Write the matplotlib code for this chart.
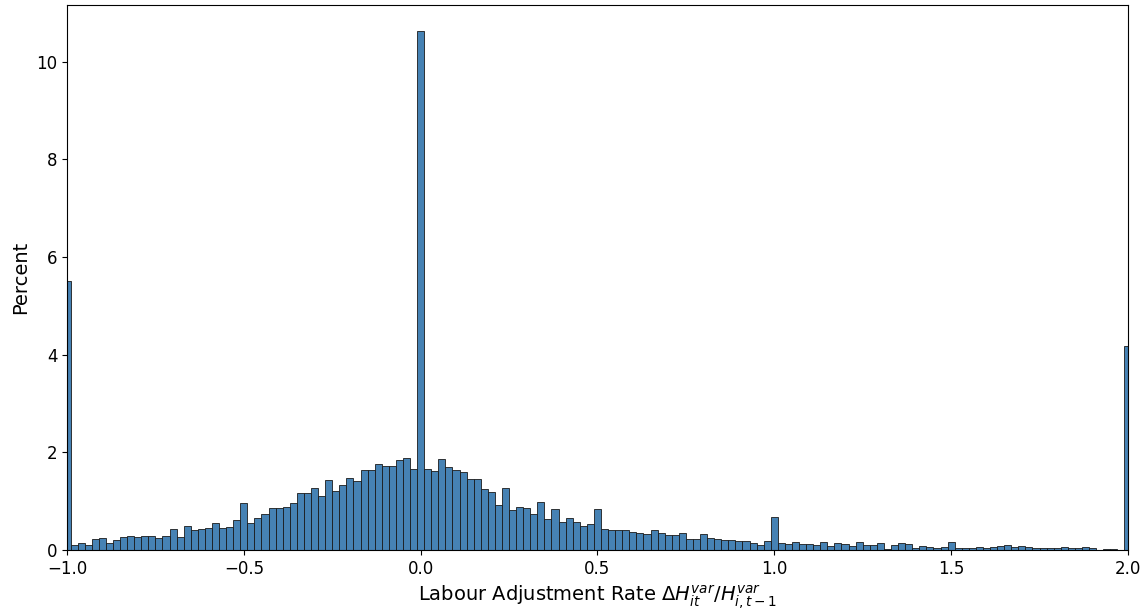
import numpy as np
import matplotlib
matplotlib.use("Agg")
import matplotlib.pyplot as plt

# bin centres -1.00, -0.98, ..., 2.00 (width 0.02)
bin_width = 0.02
centres = np.round(np.arange(-1.0, 2.0 + bin_width / 2, bin_width), 2)

# percent per bin
pct_neg = [
    5.51, 0.10, 0.14, 0.10, 0.23, 0.25, 0.14, 0.20, 0.27, 0.29,
    0.26, 0.29, 0.29, 0.25, 0.29, 0.42, 0.27, 0.49, 0.41, 0.43,
    0.45, 0.55, 0.45, 0.47, 0.62, 0.96, 0.56, 0.66, 0.73, 0.86,
    0.86, 0.875, 0.96, 1.17, 1.175, 1.28, 1.11, 1.43, 1.20, 1.33,
    1.475, 1.41, 1.64, 1.64, 1.76, 1.73, 1.73, 1.85, 1.89, 1.65,
]
pct_zero = [10.63]
pct_pos = [
    1.66, 1.62, 1.865, 1.69, 1.63, 1.605, 1.46, 1.46, 1.24, 1.18,
    0.93, 1.26, 0.82, 0.89, 0.87, 0.73, 0.99, 0.64, 0.83, 0.57,
    0.66, 0.58, 0.50, 0.53, 0.83, 0.42, 0.40, 0.40, 0.40, 0.375,
    0.355, 0.335, 0.40, 0.35, 0.315, 0.30, 0.355, 0.225, 0.23, 0.32,
    0.25, 0.225, 0.20, 0.21, 0.19, 0.18, 0.14, 0.11, 0.18, 0.67,
    0.14, 0.13, 0.165, 0.13, 0.13, 0.11, 0.165, 0.09, 0.15, 0.13,
    0.09, 0.165, 0.11, 0.11, 0.14, 0.02, 0.11, 0.14, 0.12, 0.035,
    0.08, 0.06, 0.05, 0.06, 0.16, 0.035, 0.035, 0.04, 0.06, 0.035,
    0.06, 0.09, 0.11, 0.06, 0.08, 0.06, 0.04, 0.05, 0.035, 0.035,
    0.055, 0.035, 0.05, 0.06, 0.035, 0.01, 0.02, 0.02, 0.01, 4.18,
]
percent = np.array(pct_neg + pct_zero + pct_pos)

edges = np.append(centres - bin_width / 2, centres[-1] + bin_width / 2)

fig = plt.figure(figsize=(11.47, 6.12), dpi=100)
ax = fig.add_axes([0.0584, 0.1013, 0.925, 0.8905])

ax.hist(centres, bins=edges, weights=percent, color="#4682b4",
        edgecolor="#1a1a1a", linewidth=0.6)

ax.set_xlim(-1, 2)
ax.set_ylim(0, percent.max() * 1.05)
ax.set_xticks([-1.0, -0.5, 0.0, 0.5, 1.0, 1.5, 2.0])
ax.tick_params(labelsize=12)
ax.set_ylabel("Percent", fontsize=14)
ax.set_xlabel(r"Labour Adjustment Rate $\Delta H^{var}_{it}/H^{var}_{i,t-1}$",
              fontsize=14)

fig.savefig("out.png", dpi=100)
